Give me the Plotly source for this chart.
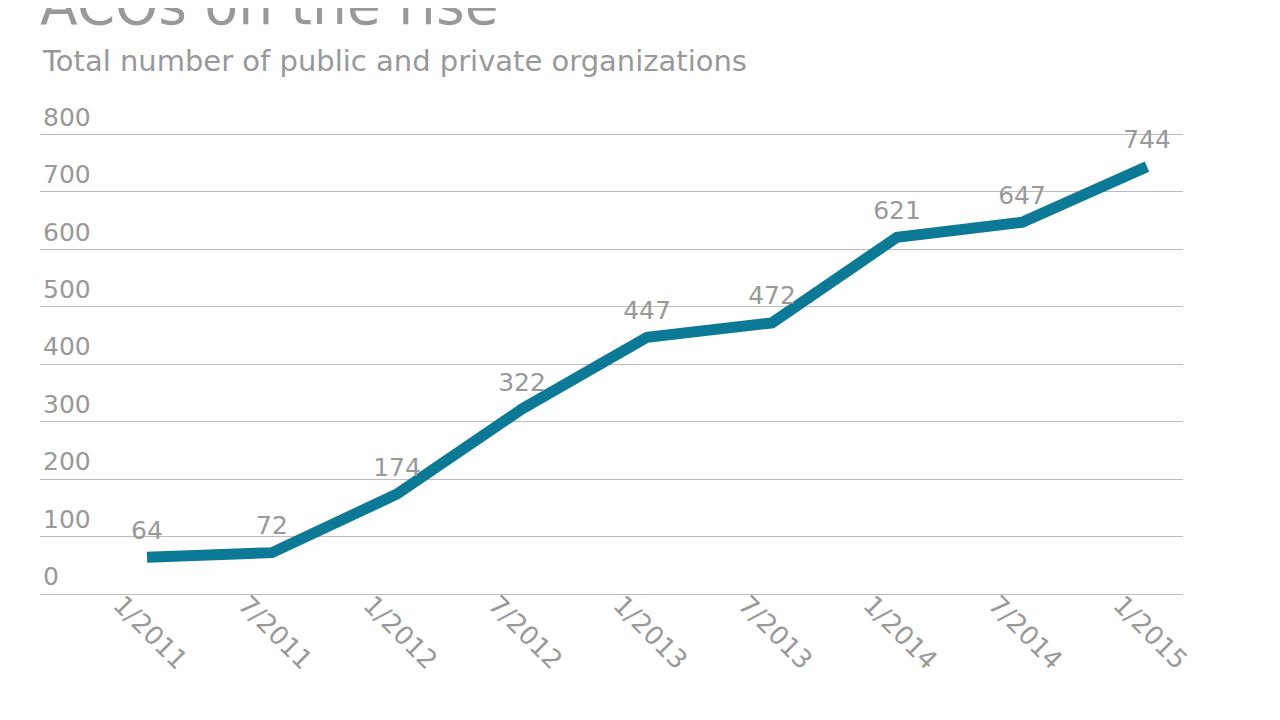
import plotly.graph_objects as go

dates = ["1/2011", "7/2011", "1/2012", "7/2012", "1/2013", "7/2013", "1/2014", "7/2014", "1/2015"]
acos = [64, 72, 174, 322, 447, 472, 621, 647, 744]
y_ticks = [0, 100, 200, 300, 400, 500, 600, 700, 800]

gray = "#999999"
grid = "#bdbdbd"
font_family = "DejaVu Sans, Verdana, sans-serif"

W, H = 1272, 712
YMAX = 900
L, R, B = 32, 97, 126
ph = 0.575 * YMAX
T = H - B - ph

fig = go.Figure()
fig.add_trace(go.Scatter(
    x=dates, y=acos, mode="lines+markers+text",
    text=[str(v) for v in acos], textposition="top center",
    textfont=dict(size=25, color=gray, family=font_family),
    line=dict(color="#0c7a97", width=11),
    marker=dict(size=18, color="rgba(0,0,0,0)"),
    hoverinfo="x+y", showlegend=False, cliponaxis=False,
))

fig.update_layout(
    width=W, height=H,
    margin=dict(l=L, r=R, t=T, b=B),
    paper_bgcolor="white", plot_bgcolor="white",
    font=dict(family=font_family, color=gray),
    title=dict(text="ACOs on the rise", x=L/W, xanchor="left", xref="container",
               y=1 - 16/H, yanchor="bottom", yref="container",
               font=dict(size=55, color=gray, family=font_family)),
    annotations=[dict(text="Total number of public and private organizations",
                      xref="paper", yref="paper", x=0, y=(H - B - 72) / ph,
                      xanchor="left", yanchor="bottom", showarrow=False,
                      font=dict(size=29, color=gray, family=font_family))],
)
fig.update_xaxes(
    type="category", range=[-0.856, 8.288], showgrid=False,
    showline=True, linecolor=grid, linewidth=1,
    tickangle=45, tickfont=dict(size=26, color=gray), ticks="",
    ticklabelshift=-26, ticklabelstandoff=-16,
)
fig.update_yaxes(
    range=[0, YMAX], tickvals=y_ticks, showgrid=True, gridcolor=grid, gridwidth=1,
    zeroline=False, ticklabelposition="inside top", tickfont=dict(size=25, color=gray),
    ticks="", showline=False,
)

fig.write_html("out.html")
